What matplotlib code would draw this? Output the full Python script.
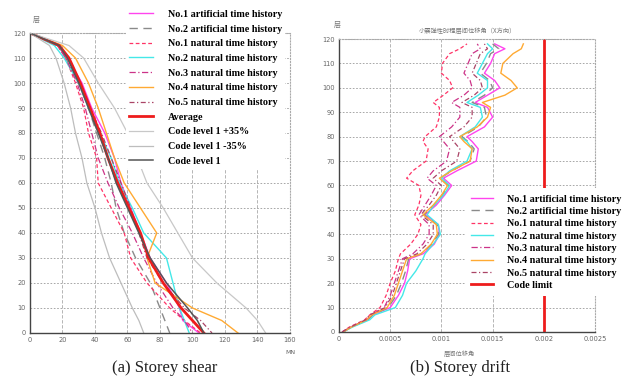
import numpy as np
import matplotlib
matplotlib.use("Agg")
import matplotlib.pyplot as plt

plt.rcParams['font.family'] = ['DejaVu Sans', 'Noto Sans CJK SC']
cjk = ['Noto Sans CJK SC', 'DejaVu Sans']

# ---- (a) storey shear, MN, read at these storeys
shear_floor = [120, 115, 110, 100, 90, 80, 70, 60, 50, 40, 30, 20, 10, 5, 0]
shear_art1 = [0, 17, 23, 32, 38, 46, 52, 56, 62, 68, 74, 84, 92, 94, 104]
shear_art2 = [0, 17, 22, 30, 36, 41, 46, 50, 53, 58, 65, 74, 80, 83, 86]
shear_nat1 = [0, 17, 22, 28, 33, 36, 41, 42, 50, 58, 62, 72, 86, 95, 105]
shear_nat2 = [0, 15, 21, 30, 36, 43, 50, 55, 63, 70, 84, 88, 92, 95, 98]
shear_nat3 = [0, 17, 22, 29, 34, 38, 42, 48, 55, 63, 70, 78, 88, 95, 100]
shear_nat4 = [0, 20, 28, 36, 42, 47, 52, 58, 68, 78, 72, 77, 100, 118, 128]
shear_nat5 = [0, 18, 24, 31, 37, 44, 50, 56, 62, 67, 72, 82, 95, 105, 112]
shear_avg = [0, 18, 24, 31, 37, 43, 48, 54, 61, 68, 73, 82, 93, 100, 107]
code_plus = [0, 24, 33, 42, 52, 60, 66, 72, 82, 91, 100, 115, 133, 140, 145]
code_minus = [0, 12, 16, 21, 25, 28, 32, 35, 40, 44, 49, 56, 63, 67, 70]
code_lv1 = [0, 18, 23, 30, 36, 42, 48, 53, 60, 67, 74, 84, 97, 103, 107]

# ---- (b) storey drift (x1e-3)
drift_floor = [0, 2, 5, 7, 10, 15, 20, 25, 30, 32, 36, 40, 44, 48, 52, 56, 60, 63, 66,
               70, 75, 78, 80, 84, 88, 92, 94, 97, 100, 103, 106, 110, 114, 116, 118]
drift_art1 = [0.04, 0.12, 0.28, 0.33, 0.50, 0.58, 0.64, 0.67, 0.69, 0.82, 0.93, 0.98, 0.97, 0.84, 0.95,
              1.03, 1.10, 1.02, 1.15, 1.34, 1.36, 1.30, 1.25, 1.42, 1.50, 1.45, 1.33, 1.45, 1.57, 1.52,
              1.42, 1.48, 1.52, 1.62, 1.52]
drift_art2 = [0.04, 0.12, 0.28, 0.33, 0.48, 0.56, 0.61, 0.65, 0.68, 0.80, 0.91, 0.97, 0.96, 0.83, 0.93,
              1.01, 1.07, 0.99, 1.10, 1.28, 1.32, 1.26, 1.20, 1.36, 1.44, 1.42, 1.30, 1.42, 1.50, 1.47,
              1.38, 1.44, 1.48, 1.56, 1.50]
drift_nat1 = [0.03, 0.10, 0.25, 0.30, 0.40, 0.46, 0.50, 0.55, 0.58, 0.60, 0.70, 0.77, 0.80, 0.74, 0.78,
              0.80, 0.78, 0.66, 0.72, 0.85, 0.87, 0.82, 0.84, 0.95, 0.98, 0.98, 0.92, 1.02, 1.11, 1.08,
              1.00, 1.01, 1.08, 1.18, 1.25]
drift_nat2 = [0.04, 0.13, 0.30, 0.35, 0.55, 0.62, 0.66, 0.75, 0.82, 0.84, 0.92, 0.99, 0.97, 0.86, 0.93,
              1.02, 1.08, 1.00, 1.08, 1.25, 1.30, 1.25, 1.18, 1.33, 1.40, 1.38, 1.25, 1.36, 1.45, 1.45,
              1.35, 1.40, 1.45, 1.50, 1.45]
drift_nat3 = [0.03, 0.11, 0.27, 0.31, 0.44, 0.50, 0.54, 0.58, 0.62, 0.72, 0.82, 0.88, 0.88, 0.78, 0.84,
              0.90, 0.95, 0.86, 0.92, 1.05, 1.08, 1.02, 0.98, 1.10, 1.18, 1.18, 1.10, 1.22, 1.30, 1.28,
              1.22, 1.26, 1.30, 1.38, 1.35]
drift_nat4 = [0.04, 0.12, 0.27, 0.32, 0.47, 0.54, 0.58, 0.62, 0.66, 0.80, 0.90, 0.96, 0.95, 0.82, 0.92,
              1.00, 1.06, 0.98, 1.10, 1.28, 1.30, 1.22, 1.18, 1.35, 1.45, 1.48, 1.40, 1.62, 1.74, 1.68,
              1.58, 1.60, 1.70, 1.78, 1.80]
drift_nat5 = [0.03, 0.11, 0.26, 0.30, 0.45, 0.52, 0.56, 0.60, 0.64, 0.76, 0.86, 0.92, 0.92, 0.80, 0.88,
              0.95, 1.00, 0.92, 1.00, 1.15, 1.18, 1.12, 1.08, 1.22, 1.30, 1.30, 1.20, 1.32, 1.40, 1.38,
              1.30, 1.34, 1.38, 1.45, 1.42]
drift_limit = 0.002

names = ['No.1 artificial time history', 'No.2 artificial time history',
         'No.1 natural time history', 'No.2 natural time history',
         'No.3 natural time history', 'No.4 natural time history',
         'No.5 natural time history']
styles = [dict(color='#ff44ee', ls='-', lw=1.0),
          dict(color='#8a8a8a', ls=(0, (6, 4)), lw=1.0),
          dict(color='#ff3366', ls=(0, (3, 2)), lw=0.9),
          dict(color='#44e8e8', ls='-', lw=1.0),
          dict(color='#cc3388', ls=(0, (5, 2, 1, 2)), lw=0.9),
          dict(color='#ffaa33', ls='-', lw=1.0),
          dict(color='#aa4466', ls=(0, (4, 2, 1, 2)), lw=0.9)]

fig = plt.figure(figsize=(6.27, 3.82), dpi=100)
ax1 = fig.add_axes([0.0478, 0.1283, 0.4147, 0.7853])
ax2 = fig.add_axes([0.5407, 0.1309, 0.4083, 0.767])

leg_font = dict(family='Liberation Serif', weight='bold', size=7.3)


def style_axes(ax):
    ax.tick_params(length=0, labelsize=4.8, labelcolor='#666666', pad=3)
    for s in ['left', 'bottom']:
        ax.spines[s].set_color('#444444')
        ax.spines[s].set_linewidth(1.0)
    for s in ['top', 'right']:
        ax.spines[s].set_color('#aaaaaa')
        ax.spines[s].set_linestyle(':')
        ax.spines[s].set_linewidth(0.8)
    ax.grid(True, axis='y', color='#999999', ls=(0, (2, 2)), lw=0.6)
    ax.grid(True, axis='x', color='#aaaaaa', ls=(0, (4, 2)), lw=0.6)
    ax.set_axisbelow(True)


# (a)
shear_series = [shear_art1, shear_art2, shear_nat1, shear_nat2, shear_nat3, shear_nat4, shear_nat5]
for vals, name, st in zip(shear_series, names, styles):
    ax1.plot(vals, shear_floor, label=name, **st)
ax1.plot(shear_avg, shear_floor, color='#ee1c1c', lw=2.0, label='Average')
ax1.plot(code_plus, shear_floor, color='#c8c8c8', lw=0.9, label='Code level 1 +35%')
ax1.plot(code_minus, shear_floor, color='#bdbdbd', lw=0.9, label='Code level 1 -35%')
ax1.plot(code_lv1, shear_floor, color='#555555', lw=1.1, label='Code level 1')
ax1.set_xlim(0, 160)
ax1.set_ylim(0, 120)
ax1.set_xticks(np.arange(0, 161, 20))
ax1.set_yticks(np.arange(0, 121, 10))
style_axes(ax1)
ax1.text(160, -7, 'MN', fontsize=4.5, color='#666666', ha='center', va='top')
ax1.text(4, 123.5, '层', fontsize=5, color='#777777', ha='center', va='bottom', family=cjk)
leg1 = ax1.legend(loc='upper left', bbox_to_anchor=(0.201, 0.982), bbox_transform=fig.transFigure,
                  prop=leg_font, frameon=True, facecolor='white', edgecolor='none', framealpha=1,
                  handlelength=2.4, handletextpad=1.4, labelspacing=0.55, borderaxespad=0,
                  borderpad=0.3)
leg1.set_zorder(5)

# (b)
drift_series = [drift_art1, drift_art2, drift_nat1, drift_nat2, drift_nat3, drift_nat4, drift_nat5]
for vals, name, st in zip(drift_series, names, styles):
    ax2.plot(np.array(vals) * 1e-3, drift_floor, label=name, **st)
ax2.plot([drift_limit, drift_limit], [0, 120], color='#ee1c1c', lw=2.0, label='Code limit')
ax2.set_xlim(0, 0.0025)
ax2.set_ylim(0, 120)
ax2.set_xticks([0, 0.0005, 0.001, 0.0015, 0.002, 0.0025])
ax2.set_xticklabels(['0', '0.0005', '0.001', '0.0015', '0.002', '0.0025'])
ax2.set_yticks(np.arange(0, 121, 10))
style_axes(ax2)
ax2.text(0.00125, 121.5, '小震弹性时程层间位移角（X方向）', fontsize=4.5, color='#777777',
         ha='center', va='bottom', family=cjk)
ax2.text(-0.00002, 124, '层', fontsize=5, color='#777777', ha='center', va='bottom', family=cjk)
ax2.text(0.00118, -7.5, '层间位移角', fontsize=4.5, color='#777777', ha='center', va='top',
         family=cjk)
leg2 = ax2.legend(loc='upper left', bbox_to_anchor=(0.742, 0.507), bbox_transform=fig.transFigure,
                  prop=leg_font, frameon=True, facecolor='white', edgecolor='none', framealpha=1,
                  handlelength=2.1, handletextpad=1.4, labelspacing=0.32, borderaxespad=0,
                  borderpad=0.6)
leg2.set_zorder(5)

fig.text(0.263, 0.037, '(a) Storey shear', fontsize=12, family='Liberation Serif',
         ha='center', va='center', color='#222222')
fig.text(0.734, 0.037, '(b) Storey drift', fontsize=12, family='Liberation Serif',
         ha='center', va='center', color='#222222')

fig.savefig('out.png', dpi=100)
